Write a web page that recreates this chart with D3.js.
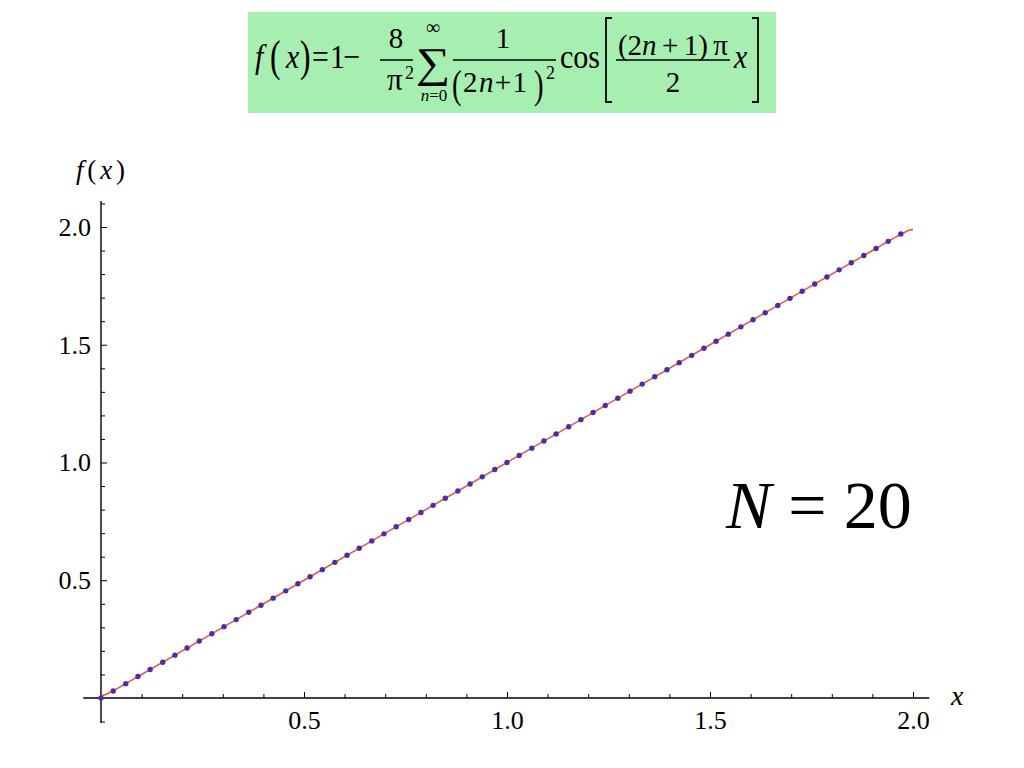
<!DOCTYPE html>
<html>
<head>
<meta charset="utf-8">
<script src="https://cdn.jsdelivr.net/npm/d3@7"></script>
<style>
  html, body { margin: 0; padding: 0; background: #ffffff; }
  svg { display: block; }
  text { font-family: "Liberation Serif", "Times New Roman", serif; fill: #000; }
</style>
</head>
<body>
<script>
// ---- data ----
const pointX = [0.000, 0.030, 0.061, 0.091, 0.121, 0.152, 0.182, 0.212, 0.242, 0.273, 0.303, 0.333, 0.364, 0.394, 0.424, 0.455, 0.485, 0.515, 0.545, 0.576, 0.606, 0.636, 0.667, 0.697, 0.727, 0.758, 0.788, 0.818, 0.848, 0.879, 0.909, 0.939, 0.970, 1.000, 1.030, 1.061, 1.091, 1.121, 1.152, 1.182, 1.212, 1.242, 1.273, 1.303, 1.333, 1.364, 1.394, 1.424, 1.455, 1.485, 1.515, 1.545, 1.576, 1.606, 1.636, 1.667, 1.697, 1.727, 1.758, 1.788, 1.818, 1.848, 1.879, 1.909, 1.939, 1.970];
const pointY = [0.000, 0.030, 0.061, 0.091, 0.121, 0.152, 0.182, 0.212, 0.242, 0.273, 0.303, 0.333, 0.364, 0.394, 0.424, 0.455, 0.485, 0.515, 0.545, 0.576, 0.606, 0.636, 0.667, 0.697, 0.727, 0.758, 0.788, 0.818, 0.848, 0.879, 0.909, 0.939, 0.970, 1.000, 1.030, 1.061, 1.091, 1.121, 1.152, 1.182, 1.212, 1.242, 1.273, 1.303, 1.333, 1.364, 1.394, 1.424, 1.455, 1.485, 1.515, 1.545, 1.576, 1.606, 1.636, 1.667, 1.697, 1.727, 1.758, 1.788, 1.818, 1.848, 1.879, 1.909, 1.939, 1.970];
// partial sum curve (N = 20)
const curveX = [0.000, 0.010, 0.020, 0.030, 0.050, 0.100, 0.500, 1.000, 1.500, 1.900, 1.950, 1.970, 1.980, 1.990, 2.000];
const curveY = [0.010, 0.014, 0.022, 0.031, 0.050, 0.100, 0.500, 1.000, 1.500, 1.900, 1.950, 1.969, 1.978, 1.986, 1.990];

const xMajorTicks = [0.5, 1.0, 1.5, 2.0];
const xMinorTicks = [0.1, 0.2, 0.3, 0.4, 0.6, 0.7, 0.8, 0.9, 1.1, 1.2, 1.3, 1.4, 1.6, 1.7, 1.8, 1.9];
const yMajorTicks = [0.5, 1.0, 1.5, 2.0];
const yMinorTicks = [-0.1, 0.1, 0.2, 0.3, 0.4, 0.6, 0.7, 0.8, 0.9, 1.1, 1.2, 1.3, 1.4, 1.6, 1.7, 1.8, 1.9, 2.1];
const xAxisExtent = [-0.044, 2.04];
const yAxisExtent = [-0.106, 2.11];

// ---- drawing ----
const W = 1024, H = 768;
const svg = d3.select("body").append("svg").attr("width", W).attr("height", H);

const x = d3.scaleLinear().domain([0, 2]).range([101, 913]);
const y = d3.scaleLinear().domain([0, 2]).range([698, 227]);

// formula box
const fb = svg.append("g");
fb.append("rect").attr("x", 248).attr("y", 12).attr("width", 528).attr("height", 101).attr("fill", "#a6efb0");
function t(txt, px, py, size, opts = {}) {
  const el = fb.append("text").attr("x", px).attr("y", py).attr("font-size", size).text(txt);
  if (opts.italic) el.attr("font-style", "italic");
  if (opts.anchor) el.attr("text-anchor", opts.anchor);
  if (opts.len) el.attr("textLength", opts.len).attr("lengthAdjust", "spacingAndGlyphs");
  if (opts.sx) el.attr("transform", `translate(${px},${py}) scale(${opts.sx},1) translate(${-px},${-py})`);
  return el;
}
function bar(x1, x2, yy) {
  fb.append("line").attr("x1", x1).attr("x2", x2).attr("y1", yy).attr("y2", yy).attr("stroke", "#000").attr("stroke-width", 1.5);
}
const MS = 34, SX = 0.88, FS = 29;
t("f", 255, 68, MS, {italic: true, sx: SX});
t("(", 270, 71, 44, {sx: 0.72});
t("x", 286, 68, MS, {italic: true, sx: SX});
t(")", 300, 71, 44, {sx: 0.72});
t("=", 312, 68, MS, {sx: SX});
t("1", 330, 68, MS, {sx: SX});
t("\u2212", 343, 68, MS, {sx: SX});
t("8", 396, 48, FS, {anchor: "middle"});
bar(380, 413, 60);
t("\u03c0", 387, 90, 31);
t("2", 405, 79, 18);
t("\u2211", 433, 77, 42, {anchor: "middle", sx: 1.15});
t("\u221e", 433, 34, 20, {anchor: "middle"});
const n0 = fb.append("text").attr("x", 434).attr("y", 101).attr("font-size", 17).attr("text-anchor", "middle");
n0.append("tspan").attr("font-style", "italic").text("n");
n0.append("tspan").text("=0");
t("1", 503, 48, FS, {anchor: "middle"});
bar(453, 556, 60);
t("(", 452, 98, 40, {sx: 0.72});
const den = fb.append("text").attr("x", 463).attr("y", 92).attr("font-size", FS).attr("textLength", 64).attr("lengthAdjust", "spacing");
den.append("tspan").text("2");
den.append("tspan").attr("font-style", "italic").text("n");
den.append("tspan").text("+1");
t(")", 534, 98, 40, {sx: 0.72});
t("2", 546, 79, 18);
t("cos", 560, 68, MS, {len: 40});
// big brackets
fb.append("path").attr("d", "M612,18 H606 V102 H612").attr("fill", "none").attr("stroke", "#000").attr("stroke-width", 1.8);
fb.append("path").attr("d", "M752,18 H758 V102 H752").attr("fill", "none").attr("stroke", "#000").attr("stroke-width", 1.8);
const num = fb.append("text").attr("x", 618).attr("y", 55).attr("font-size", FS).attr("textLength", 110).attr("lengthAdjust", "spacing");
num.append("tspan").text("(2");
num.append("tspan").attr("font-style", "italic").text("n");
num.append("tspan").text("\u2009+\u20091)\u2009\u03c0");
bar(616, 730, 60);
t("2", 673, 92, FS, {anchor: "middle"});
t("x", 734, 68, MS, {italic: true, sx: SX});

// axes lines
svg.append("line").attr("x1", x(xAxisExtent[0])).attr("x2", x(xAxisExtent[1]))
  .attr("y1", y(0)).attr("y2", y(0)).attr("stroke", "#000").attr("stroke-width", 1.4);
svg.append("line").attr("x1", x(0)).attr("x2", x(0))
  .attr("y1", y(yAxisExtent[0])).attr("y2", y(yAxisExtent[1])).attr("stroke", "#000").attr("stroke-width", 1.4);

function styleAxis(g) {
  g.select(".domain").remove();
  g.selectAll(".tick line").attr("stroke", "#000").attr("stroke-width", 1);
  g.selectAll(".tick text").attr("font-family", "Liberation Serif, serif").attr("font-size", 26).attr("fill", "#000");
}
svg.append("g").attr("transform", `translate(0,${y(0)})`)
  .call(d3.axisBottom(x).tickValues(xMinorTicks).tickSize(-4).tickFormat(""))
  .call(styleAxis);
svg.append("g").attr("transform", `translate(0,${y(0)})`)
  .call(d3.axisBottom(x).tickValues(xMajorTicks).tickSize(-6).tickPadding(13).tickFormat(d3.format(".1f")))
  .call(styleAxis);
svg.append("g").attr("transform", `translate(${x(0)},0)`)
  .call(d3.axisLeft(y).tickValues(yMinorTicks).tickSize(-4).tickFormat(""))
  .call(styleAxis);
svg.append("g").attr("transform", `translate(${x(0)},0)`)
  .call(d3.axisLeft(y).tickValues(yMajorTicks).tickSize(-6).tickPadding(10).tickFormat(d3.format(".1f")))
  .call(styleAxis);

// axis labels
const fl = svg.append("text").attr("x", 76).attr("y", 179).attr("font-size", 27)
  .attr("textLength", 49).attr("lengthAdjust", "spacing");
fl.append("tspan").attr("font-style", "italic").text("f");
fl.append("tspan").text("(");
fl.append("tspan").attr("font-style", "italic").text("x");
fl.append("tspan").text(")");
svg.append("text").attr("x", 951).attr("y", 705).attr("font-size", 28).attr("font-style", "italic").text("x");

// curve
const curveData = curveX.map((v, i) => [v, curveY[i]]);
svg.append("path").datum(curveData)
  .attr("fill", "none").attr("stroke", "#ec5750").attr("stroke-width", 1.6)
  .attr("d", d3.line().x(d => x(d[0])).y(d => y(d[1])).curve(d3.curveMonotoneX));

// points
svg.append("g").selectAll("circle").data(pointX.map((v, i) => [v, pointY[i]])).join("circle")
  .attr("cx", d => x(d[0])).attr("cy", d => y(d[1])).attr("r", 2.7)
  .attr("fill", "#4a2ea4");

// annotation
const ann = svg.append("text").attr("x", 726).attr("y", 528).attr("font-size", 68);
ann.append("tspan").attr("font-style", "italic").text("N");
ann.append("tspan").text(" = 20");
</script>
</body>
</html>
